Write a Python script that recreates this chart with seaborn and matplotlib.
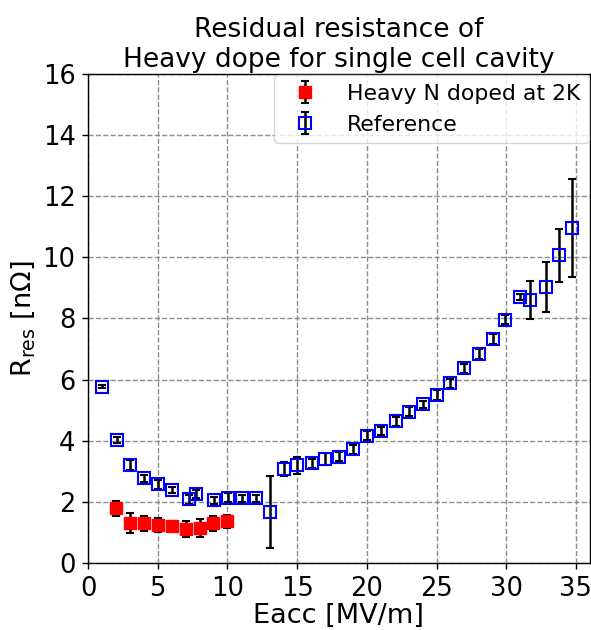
import matplotlib
matplotlib.use("Agg")
import matplotlib.pyplot as plt
import seaborn as sns
import numpy as np

# Heavy N doped at 2K
heavy_x = [2, 3, 4, 5, 6, 7, 8, 9, 10]
heavy_y = [1.79, 1.32, 1.30, 1.25, 1.22, 1.11, 1.14, 1.30, 1.37]
heavy_err = [0.25, 0.32, 0.24, 0.22, 0.05, 0.26, 0.29, 0.24, 0.22]

# Reference
ref_x = [1.03, 2.06, 3.04, 4.02, 5.02, 6.05, 7.25, 7.77, 9.04, 10.07, 11.07, 12.03, 13.06,
         14.06, 15.02, 16.04, 17.0, 17.98, 19.01, 20.0, 21.0, 22.07, 23.05, 24.05, 25.0,
         25.97, 27.0, 28.05, 29.08, 29.93, 30.99, 31.7, 32.83, 33.81, 34.74]
ref_y = [5.77, 4.02, 3.21, 2.77, 2.58, 2.39, 2.09, 2.26, 2.06, 2.14, 2.12, 2.12, 1.68,
         3.07, 3.20, 3.26, 3.40, 3.48, 3.72, 4.17, 4.32, 4.64, 4.95, 5.19, 5.50,
         5.88, 6.37, 6.84, 7.33, 7.96, 8.69, 8.61, 9.04, 10.06, 10.95]
ref_err = [0.05, 0.10, 0.15, 0.12, 0.15, 0.10, 0.15, 0.12, 0.12, 0.15, 0.12, 0.12, 1.17,
           0.23, 0.27, 0.15, 0.20, 0.15, 0.15, 0.15, 0.12, 0.15, 0.15, 0.12, 0.15,
           0.15, 0.15, 0.15, 0.15, 0.15, 0.10, 0.62, 0.82, 0.88, 1.60]

x_ticks = [0, 5, 10, 15, 20, 25, 30, 35]
y_ticks = [0, 2, 4, 6, 8, 10, 12, 14, 16]

sns.set_style("white")
plt.rcParams["font.family"] = ["DejaVu Sans"]
plt.rcParams["text.color"] = "black"
plt.rcParams["axes.labelcolor"] = "black"

fig = plt.figure(figsize=(5.91, 6.30), dpi=100)
ax = fig.add_axes([0.149, 0.106, 0.849, 0.777])

ax.errorbar(heavy_x, heavy_y, yerr=heavy_err, fmt="s", color="red", markersize=9,
            ecolor="black", elinewidth=1.8, capsize=3, capthick=1.5,
            label="Heavy N doped at 2K", zorder=3)
ax.errorbar(ref_x, ref_y, yerr=ref_err, fmt="s", markerfacecolor="none",
            markeredgecolor="blue", markeredgewidth=1.5, markersize=9,
            ecolor="black", elinewidth=1.8, capsize=3, capthick=1.5,
            label="Reference", zorder=3)

ax.set_xlim(0, 36)
ax.set_ylim(0, 16)
ax.set_xticks(x_ticks)
ax.set_yticks(y_ticks)
ax.grid(True, linestyle="--", color="gray", linewidth=1.0, alpha=0.9)
ax.set_axisbelow(True)
for s in ax.spines.values():
    s.set_color("black")
    s.set_linewidth(1.0)
ax.tick_params(axis="both", which="major", labelsize=18.5, length=4.5, width=1,
               pad=4.5, direction="out", bottom=True, left=True, colors="black")

ax.set_xlabel("Eacc [MV/m]", fontsize=19.5, labelpad=1, color="black")
ax.set_ylabel("R$_{\\rm res}$ [nΩ]", fontsize=19.5, labelpad=4, color="black")
ax.set_title("Residual resistance of\nHeavy dope for single cell cavity", fontsize=19,
             pad=5, color="black")

leg = ax.legend(loc="upper right", fontsize=15.8, borderaxespad=0.05, frameon=True,
                fancybox=True, framealpha=0.8, handletextpad=0.9)
for t in leg.get_texts():
    t.set_color("black")

fig.savefig("out.png", dpi=100)
